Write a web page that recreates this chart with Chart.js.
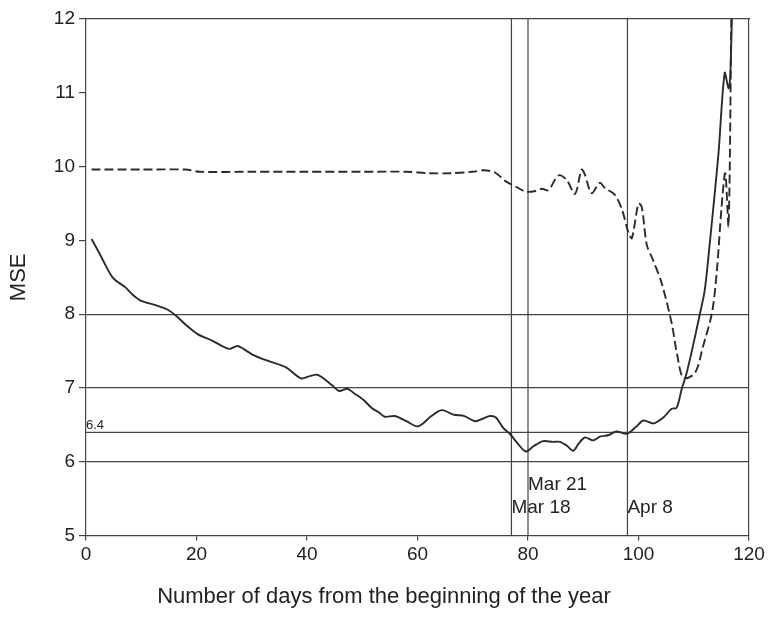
<!DOCTYPE html>
<html>
<head>
<meta charset="utf-8">
<title>MSE by day of year</title>
<script src="https://cdn.jsdelivr.net/npm/chart.js@4.4.1/dist/chart.umd.min.js"></script>
<style>
  html, body { margin: 0; padding: 0; background: #fff; }
  canvas { display: block; }
</style>
</head>
<body>
<canvas id="chartContainer" width="768" height="630"></canvas>
<script>
// solid curve
const solidDays = [1, 2.4, 4.8, 7.2, 8.5, 10, 12.7, 14.8, 16.3, 18, 20.2, 22.9, 25.9, 27.4, 28.5, 30.2, 33.2, 36.2, 38.9, 40.5, 41.8, 43, 44.5, 45.8, 47.3, 48.5, 50.2, 51.7, 53, 54.1, 55.9, 58, 59.9, 61, 62.5, 64.4, 66.5, 68.5, 70.4, 72, 73.1, 74.2, 75.5, 76.7, 78, 79.6, 81, 82.7, 84.5, 85.8, 87, 88.2, 89.2, 90.3, 91.8, 93, 94.5, 96, 97.9, 99.5, 100.9, 102.7, 104.5, 106, 106.9, 107.8, 108.7, 109.8, 111.1, 112, 112.9, 113.8, 114.5, 115.6, 116.3, 116.6, 116.9];
const solidMse = [9.02, 8.83, 8.50, 8.36, 8.26, 8.18, 8.12, 8.06, 7.98, 7.86, 7.73, 7.64, 7.53, 7.57, 7.53, 7.45, 7.36, 7.28, 7.13, 7.16, 7.18, 7.13, 7.04, 6.96, 6.99, 6.93, 6.84, 6.73, 6.67, 6.61, 6.62, 6.55, 6.48, 6.52, 6.62, 6.70, 6.64, 6.62, 6.55, 6.59, 6.62, 6.60, 6.46, 6.38, 6.26, 6.14, 6.21, 6.28, 6.27, 6.27, 6.22, 6.15, 6.25, 6.33, 6.29, 6.34, 6.36, 6.41, 6.38, 6.47, 6.56, 6.52, 6.60, 6.72, 6.73, 6.98, 7.20, 7.55, 8.00, 8.33, 8.96, 9.64, 10.2, 11.27, 11.06, 11.22, 12];

// dashed curve
const dashedDays = [1, 10, 18, 20.6, 30, 40, 50, 58, 62, 66, 70, 72, 74, 76, 78, 79.6, 81.4, 82.5, 83.7, 85.5, 87, 88.5, 89.7, 90.3, 91.5, 93, 93.9, 95.7, 97, 98.2, 98.8, 100, 100.6, 101.5, 102.7, 104.2, 106, 107, 108.1, 110.2, 111.7, 113.3, 114.2, 115, 115.7, 116.3, 116.8];
const dashedMse = [9.96, 9.96, 9.96, 9.93, 9.93, 9.93, 9.93, 9.93, 9.91, 9.91, 9.93, 9.95, 9.92, 9.80, 9.72, 9.66, 9.67, 9.70, 9.68, 9.88, 9.82, 9.63, 9.96, 9.89, 9.64, 9.78, 9.71, 9.62, 9.42, 9.10, 9.03, 9.50, 9.45, 8.94, 8.72, 8.42, 7.88, 7.45, 7.14, 7.20, 7.57, 8.02, 8.60, 9.42, 9.91, 9.20, 12];

// reference lines
const gridLevels = [6, 7, 8];
const refLevel = 6.4;
const markerDays = [77, 80, 98];
const markerLabels = ['Mar 18', 'Mar 21', 'Apr 8'];

const xTicks = [0, 20, 40, 60, 80, 100, 120];
const yTicks = [5, 6, 7, 8, 9, 10, 11, 12];

const FONT = '"Liberation Sans", Arial, sans-serif';
const INK = '#222';
const LINE = '#444';

function toPoints(xs, ys) {
  return xs.map((d, i) => ({ x: d, y: ys[i] }));
}

const datasets = [
  {
    data: toPoints(solidDays, solidMse),
    borderColor: '#2b2b2b',
    borderWidth: 1.9,
    tension: 0.3
  },
  {
    data: toPoints(dashedDays, dashedMse),
    borderColor: '#2b2b2b',
    borderWidth: 1.9,
    borderDash: [9, 4],
    tension: 0.3
  },
  {
    data: [{ x: xTicks[0], y: refLevel }, { x: xTicks[xTicks.length - 1], y: refLevel }],
    borderColor: LINE,
    borderWidth: 1.2
  }
];
markerDays.forEach(d => {
  datasets.push({
    data: [{ x: d, y: yTicks[0] }, { x: d, y: yTicks[yTicks.length - 1] }],
    borderColor: LINE,
    borderWidth: 1.2
  });
});

// Mar 21 goes one row higher so it clears Mar 18
const labelRow = [0, 1, 0];

const markerText = {
  id: 'markerText',
  afterDatasetsDraw(chart) {
    const { ctx, chartArea, scales: { x, y } } = chart;
    ctx.save();
    ctx.fillStyle = INK;
    ctx.textAlign = 'left';
    ctx.textBaseline = 'alphabetic';
    ctx.font = '19px ' + FONT;
    markerDays.forEach((d, i) => {
      ctx.fillText(markerLabels[i], x.getPixelForValue(d), chartArea.bottom - 23 - labelRow[i] * 23);
    });
    ctx.font = '13px ' + FONT;
    ctx.fillText(String(refLevel), chartArea.left, y.getPixelForValue(refLevel) - 3);
    ctx.restore();
  }
};

const ctx = document.getElementById('chartContainer').getContext('2d');
new Chart(ctx, {
  type: 'line',
  data: { datasets: datasets },
  plugins: [markerText],
  options: {
    responsive: false,
    animation: false,
    devicePixelRatio: 1,
    layout: { padding: 0 },
    elements: { point: { radius: 0 } },
    plugins: {
      legend: { display: false },
      tooltip: { enabled: false },
      title: {
        display: true,
        position: 'bottom',
        text: 'Number of days from the beginning of the year',
        color: INK,
        font: { family: FONT, size: 22, weight: 'normal' },
        padding: { top: 8, bottom: 20 }
      }
    },
    scales: {
      x: {
        type: 'linear',
        min: 0,
        max: 120,
        afterBuildTicks: s => { s.ticks = xTicks.map(v => ({ value: v })); },
        afterFit: s => { s.height = 40; },
        grid: { drawOnChartArea: false, tickLength: 5, tickColor: LINE, lineWidth: 1.2 },
        border: { color: LINE, width: 1.2 },
        ticks: { color: INK, padding: 3, maxRotation: 0, font: { family: FONT, size: 19 } }
      },
      y: {
        min: 5,
        max: 12,
        afterBuildTicks: s => { s.ticks = yTicks.map(v => ({ value: v })); },
        afterFit: s => { s.width = 86; },
        grid: {
          color: c => gridLevels.includes(c.tick.value) ? LINE : 'rgba(0,0,0,0)',
          tickColor: LINE,
          tickLength: 7,
          lineWidth: 1.2
        },
        border: { color: LINE, width: 1.2 },
        ticks: { color: INK, padding: 4, font: { family: FONT, size: 19 } },
        title: {
          display: true,
          text: 'MSE',
          color: INK,
          font: { family: FONT, size: 22 },
          padding: { top: 6, bottom: 0 }
        }
      },
      // top and right edges of the frame
      xTop: {
        type: 'linear',
        position: 'top',
        min: 0,
        max: 120,
        afterFit: s => { s.height = 19; },
        grid: { display: false },
        ticks: { display: false },
        border: { color: LINE, width: 1.2 }
      },
      yRight: {
        type: 'linear',
        position: 'right',
        min: 5,
        max: 12,
        afterFit: s => { s.width = 19; },
        grid: { display: false },
        ticks: { display: false },
        border: { color: LINE, width: 1.2 }
      }
    }
  }
});
</script>
</body>
</html>
